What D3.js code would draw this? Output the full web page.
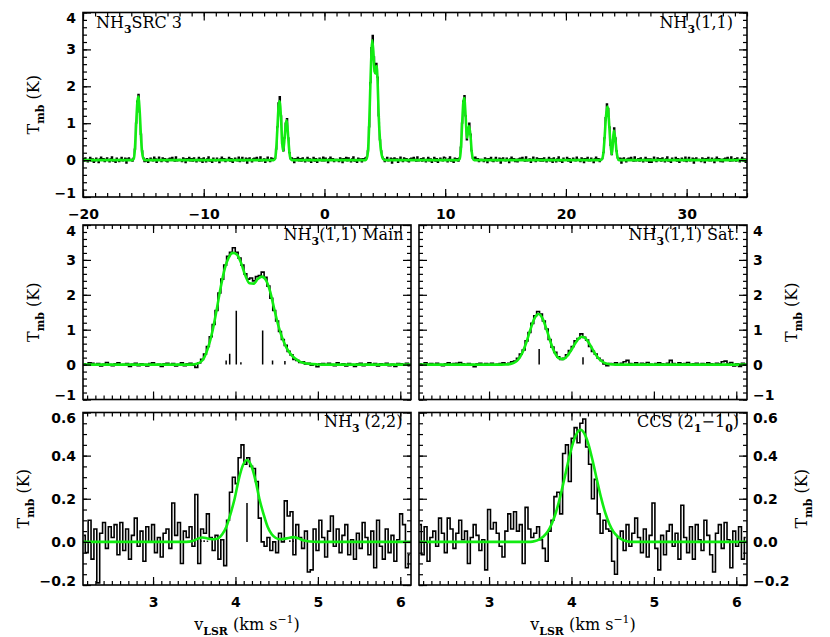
<!DOCTYPE html>
<html><head><meta charset="utf-8">
<script src="https://cdn.jsdelivr.net/npm/d3@7"></script>
<style>body{margin:0;background:#fff}svg{display:block}</style>
</head><body>
<svg id="c" width="830" height="637"></svg>
<script>
// ---------------- DATA ----------------
// Top panel: full NH3(1,1) spectrum, channels from -20 km/s, 0.1 km/s apart
const topStart = -20, topStep = 0.1;
const topT = [
 0.04,-0.03,0.06,0.01,-0.05,0.02,0.07,-0.02,0.03,-0.06,
 -0.02,0.05,0.00,-0.07,0.03,0.08,-0.01,0.04,-0.04,0.02,
 0.06,-0.01,-0.05,0.03,0.09,-0.03,0.01,-0.06,0.05,0.00,
 -0.04,0.02,0.07,-0.02,0.00,0.05,-0.08,0.03,0.06,-0.01,
 0.02,-0.03,0.05,0.30,1.00,1.60,1.78,1.30,0.70,0.25,
 0.06,-0.04,-0.03,0.04,-0.06,0.00,0.05,0.02,-0.02,0.08,
 0.03,-0.06,0.02,0.08,-0.01,-0.04,0.06,0.00,0.04,-0.03,
 -0.05,0.03,0.05,-0.01,0.07,0.02,-0.03,0.09,-0.02,0.01,
 0.02,0.00,-0.04,0.06,0.03,-0.07,0.04,0.01,0.07,-0.02,
 0.04,-0.03,0.06,0.01,-0.05,0.02,0.07,-0.02,0.03,-0.06,
 0.06,-0.01,-0.05,0.03,0.09,-0.03,0.01,-0.06,0.05,0.00,
 -0.02,0.05,0.00,-0.07,0.03,0.08,-0.01,0.04,-0.04,0.02,
 0.01,0.07,-0.03,0.04,-0.06,0.00,0.05,0.02,-0.02,0.08,
 -0.04,0.02,0.07,-0.02,0.00,0.05,-0.08,0.03,0.06,-0.01,
 -0.05,0.03,0.05,-0.01,0.07,0.02,-0.03,0.09,-0.02,0.01,
 0.03,-0.06,0.02,0.08,-0.01,-0.04,0.06,0.00,0.04,0.05,
 0.30,0.90,1.55,1.72,1.20,0.45,0.25,0.60,1.00,1.12,
 0.60,0.20,0.04,0.06,0.03,-0.07,0.04,0.01,0.07,-0.02,
 0.04,-0.03,0.06,0.01,-0.05,0.02,0.07,-0.02,0.03,-0.06,
 0.01,0.07,-0.03,0.04,-0.06,0.00,0.05,0.02,-0.02,0.08,
 -0.02,0.05,0.00,-0.07,0.03,0.08,-0.01,0.04,-0.04,0.02,
 0.02,0.00,-0.04,0.06,0.03,-0.07,0.04,0.01,0.07,-0.02,
 0.06,-0.01,-0.05,0.03,0.09,-0.03,0.01,-0.06,0.05,0.00,
 0.03,-0.05,0.04,0.00,0.06,0.08,0.25,0.90,2.10,3.05,
 3.38,2.80,2.40,2.62,2.25,1.20,0.55,0.25,0.08,0.03,
 -0.04,0.02,0.07,-0.02,0.00,0.05,-0.08,0.03,0.06,-0.01,
 0.03,-0.06,0.02,0.08,-0.01,-0.04,0.06,0.00,0.04,-0.03,
 -0.05,0.03,0.05,-0.01,0.07,0.02,-0.03,0.09,-0.02,0.01,
 0.04,-0.03,0.06,0.01,-0.05,0.02,0.07,-0.02,0.03,-0.06,
 0.01,0.07,-0.03,0.04,-0.06,0.00,0.05,0.02,-0.02,0.08,
 0.06,-0.01,-0.05,0.03,0.09,-0.03,0.01,-0.06,0.05,0.00,
 0.04,-0.03,0.06,0.35,1.00,1.60,1.75,1.20,0.55,0.80,
 1.00,0.70,0.25,0.05,0.03,0.08,-0.01,0.04,-0.04,0.02,
 0.02,0.00,-0.04,0.06,0.03,-0.07,0.04,0.01,0.07,-0.02,
 -0.04,0.02,0.07,-0.02,0.00,0.05,-0.08,0.03,0.06,-0.01,
 -0.02,0.05,0.00,-0.07,0.03,0.08,-0.01,0.04,-0.04,0.02,
 -0.05,0.03,0.05,-0.01,0.07,0.02,-0.03,0.09,-0.02,0.01,
 0.03,-0.06,0.02,0.08,-0.01,-0.04,0.06,0.00,0.04,-0.03,
 0.04,-0.03,0.06,0.01,-0.05,0.02,0.07,-0.02,0.03,-0.06,
 0.06,-0.01,-0.05,0.03,0.09,-0.03,0.01,-0.06,0.05,0.00,
 0.01,0.07,-0.03,0.04,-0.06,0.00,0.05,0.02,-0.02,0.08,
 0.02,0.00,-0.04,0.06,0.03,-0.07,0.04,0.01,0.07,-0.02,
 -0.02,0.05,0.00,-0.07,0.03,0.08,-0.01,0.04,-0.04,0.02,
 0.04,0.20,0.60,1.15,1.52,1.40,0.90,0.40,0.15,0.55,
 0.87,0.60,0.25,0.06,0.00,0.05,-0.08,0.03,0.06,-0.01,
 -0.05,0.03,0.05,-0.01,0.07,0.02,-0.03,0.09,-0.02,0.01,
 0.04,-0.03,0.06,0.01,-0.05,0.02,0.07,-0.02,0.03,-0.06,
 0.03,-0.06,0.02,0.08,-0.01,-0.04,0.06,0.00,0.04,-0.03,
 0.06,-0.01,-0.05,0.03,0.09,-0.03,0.01,-0.06,0.05,0.00,
 0.01,0.07,-0.03,0.04,-0.06,0.00,0.05,0.02,-0.02,0.08,
 -0.04,0.02,0.07,-0.02,0.00,0.05,-0.08,0.03,0.06,-0.01,
 0.02,0.00,-0.04,0.06,0.03,-0.07,0.04,0.01,0.07,-0.02,
 -0.02,0.05,0.00,-0.07,0.03,0.08,-0.01,0.04,-0.04,0.02,
 -0.05,0.03,0.05,-0.01,0.07,0.02,-0.03,0.09,-0.02,0.01,
 0.04,-0.03,0.06,0.01,-0.05,0.02,0.07,-0.02,0.03,-0.06,
 0.02
];
// Top panel fit [v, T]
const topFit = [
 [-20,0],[-15.9,0],[-15.8,0.03],[-15.7,0.3],[-15.6,0.95],[-15.5,1.55],[-15.42,1.72],[-15.3,1.3],[-15.2,0.65],[-15.1,0.2],[-15.0,0.04],[-14.9,0],
 [-4.2,0],[-4.1,0.03],[-4.0,0.28],[-3.9,0.85],[-3.8,1.45],[-3.72,1.6],[-3.6,1.15],[-3.5,0.45],[-3.42,0.25],[-3.3,0.6],[-3.2,0.98],[-3.12,1.08],[-3.0,0.6],[-2.9,0.2],[-2.8,0.03],[-2.7,0],
 [3.4,0],[3.5,0.04],[3.6,0.22],[3.7,0.9],[3.8,2.0],[3.9,2.95],[3.96,3.25],[4.05,2.95],[4.15,2.4],[4.22,2.35],[4.32,2.55],[4.4,2.15],[4.5,1.15],[4.6,0.55],[4.7,0.22],[4.8,0.07],[4.9,0.02],[5.0,0],
 [11.1,0],[11.2,0.03],[11.3,0.3],[11.4,0.95],[11.5,1.55],[11.58,1.68],[11.7,1.15],[11.8,0.6],[11.9,0.78],[11.98,0.92],[12.1,0.65],[12.2,0.22],[12.3,0.04],[12.4,0],
 [22.9,0],[23.0,0.03],[23.1,0.18],[23.2,0.58],[23.3,1.1],[23.42,1.45],[23.5,1.35],[23.6,0.88],[23.7,0.4],[23.8,0.16],[23.88,0.4],[23.97,0.8],[24.1,0.55],[24.2,0.22],[24.3,0.05],[24.4,0],
 [35,0]
];

// Zoomed panels: channels from 2.16 km/s, 0.035 km/s apart
const chanStart = 2.16, chanStep = 0.035;
const mainT = [
 0.02,0.00,0.05,0.04,-0.02,0.03,-0.04,0.01,0.06,0.00,
 -0.03,0.02,0.05,-0.02,0.00,0.03,-0.05,0.01,0.04,-0.03,
 0.02,0.00,-0.04,0.03,0.05,-0.02,0.01,-0.05,0.02,0.04,
 -0.01,0.03,-0.04,0.00,0.05,-0.03,0.02,0.04,-0.02,-0.08,
 0.05,0.15,0.30,0.52,0.80,1.15,1.55,2.05,2.45,2.85,
 3.10,3.22,3.35,3.22,3.05,2.85,2.60,2.45,2.48,2.40,
 2.52,2.55,2.65,2.50,2.25,1.90,1.55,1.25,0.95,0.72,
 0.55,0.38,0.28,0.15,0.12,0.06,0.08,0.02,0.04,-0.02,
 0.01,-0.06,0.02,0.03,-0.02,0.04,0.00,-0.03,0.05,-0.01,
 0.02,-0.04,0.03,0.00,-0.05,0.02,0.04,-0.03,0.01,0.05,
 -0.02,0.03,-0.04,0.02,0.00,0.04,-0.03,0.01,-0.05,0.03,
 0.02,-0.02,0.04,-0.03
];
const mainFit = [
 [2.14,0],[3.45,0],[3.52,0.02],[3.57,0.06],[3.62,0.2],[3.67,0.5],[3.72,0.95],[3.77,1.55],[3.82,2.2],[3.87,2.75],
 [3.92,3.08],[3.97,3.2],[4.02,3.15],[4.07,2.9],[4.12,2.55],[4.17,2.33],[4.22,2.32],[4.27,2.45],[4.32,2.52],[4.37,2.42],
 [4.42,2.1],[4.47,1.6],[4.52,1.12],[4.57,0.75],[4.62,0.48],[4.67,0.3],[4.72,0.18],[4.77,0.1],[4.82,0.05],[4.9,0.02],
 [5.0,0.005],[5.1,0],[6.14,0]
];
const mainSticks = [[3.887,0.12],[3.93,0.31],[4.01,1.54],[4.066,0.07],[4.33,0.98],[4.45,0.12],[4.60,0.10]];

const satT = [
 0.02,-0.02,0.05,0.01,0.03,-0.01,0.04,0.00,-0.03,0.02,
 0.05,0.01,0.03,0.04,0.06,0.02,-0.02,0.03,0.00,-0.06,
 0.02,0.04,-0.01,0.03,0.00,0.04,-0.02,0.01,0.03,0.05,
 0.02,
 0.04,0.08,0.10,0.18,0.30,0.42,0.68,0.92,1.18,1.40,
 1.52,1.45,1.25,1.02,0.72,0.50,0.35,0.22,0.15,0.18,
 0.28,0.40,0.52,0.68,0.75,0.88,0.78,0.70,0.52,0.38,
 0.30,0.18,0.12,0.02,-0.03,
 0.03,0.01,0.05,-0.02,0.04,0.08,0.12,0.03,0.00,0.05,
 -0.02,0.04,0.02,0.06,0.01,-0.01,0.03,0.05,0.02,0.00,
 0.04,0.12,0.03,-0.01,0.05,0.02,0.03,0.06,0.00,0.02,
 0.04,-0.02,0.03,0.01,0.05,0.02,0.00,0.04,0.02,0.08,
 0.10,0.03,0.06,-0.04,0.02,-0.05,0.04,0.01
];
const satFit = [
 [2.14,0],[3.15,0],[3.2,0.004],[3.25,0.014],[3.3,0.048],[3.35,0.136],[3.4,0.319],[3.45,0.619],[3.5,0.993],[3.55,1.32],
 [3.6,1.45],[3.65,1.32],[3.7,0.993],[3.75,0.619],[3.8,0.33],[3.85,0.18],[3.9,0.156],[3.95,0.25],[4.0,0.425],[4.05,0.628],
 [4.1,0.773],[4.13,0.8],[4.15,0.788],[4.2,0.665],[4.25,0.464],[4.3,0.268],[4.35,0.128],[4.4,0.051],[4.45,0.017],[4.5,0.005],
 [4.56,0],[6.14,0]
];
const satSticks = [[3.608,0.45],[4.14,0.21]];

const nh322T = [
 0.03,-0.05,0.10,-0.08,0.06,-0.19,0.04,0.09,-0.03,0.07,
 0.02,0.08,-0.06,0.09,-0.04,0.06,-0.08,0.03,0.11,-0.02,
 0.05,-0.09,0.07,0.00,0.08,-0.05,0.02,-0.07,0.04,0.06,
 -0.03,0.18,0.03,0.09,-0.10,0.05,0.02,0.07,-0.02,0.22,
 -0.10,0.06,0.04,0.13,0.02,-0.04,0.03,-0.08,0.01,-0.11,
 0.10,0.23,0.30,0.27,0.39,0.45,0.36,0.39,0.35,0.34,
 0.28,0.11,0.00,-0.02,0.02,-0.04,0.00,-0.05,0.04,0.00,
 0.19,0.12,0.14,-0.06,0.08,0.02,-0.03,0.05,-0.14,-0.13,
 0.06,-0.04,0.10,0.02,-0.07,0.05,0.12,-0.02,0.06,-0.05,
 0.03,0.08,-0.06,0.01,-0.08,0.04,-0.03,0.09,0.02,-0.06,
 0.05,-0.12,0.10,-0.02,-0.08,0.06,-0.05,0.03,-0.09,0.01,
 0.13,0.08,-0.12,-0.06
];
const nh322Fit = [
 [2.14,0],[3.40,0],[3.48,0.004],[3.54,0.014],[3.60,0.02],[3.66,0.016],[3.70,0.013],[3.74,0.012],[3.79,0.016],[3.84,0.035],
 [3.89,0.07],[3.94,0.13],[3.99,0.2],[4.04,0.29],[4.09,0.355],[4.14,0.38],[4.19,0.355],[4.24,0.29],[4.29,0.2],[4.34,0.13],
 [4.39,0.07],[4.44,0.035],[4.49,0.018],[4.54,0.012],[4.59,0.014],[4.64,0.018],[4.70,0.022],[4.76,0.017],[4.82,0.008],[4.90,0.002],
 [5.0,0],[6.14,0]
];
const nh322Sticks = [[3.58,0.008],[3.62,0.008],[3.66,0.006],[4.14,0.18],[4.66,0.008],[4.70,0.006]];

const ccsT = [
 0.08,-0.06,0.07,-0.09,0.02,0.05,-0.02,0.11,0.04,-0.05,
 0.11,0.06,-0.03,0.04,0.10,0.01,0.05,-0.10,0.02,0.08,
 0.03,-0.04,0.01,-0.13,0.15,0.06,0.09,0.04,-0.02,-0.07,
 0.05,0.13,0.06,0.14,0.05,0.08,-0.10,0.16,0.06,0.02,
 0.04,0.07,0.01,-0.03,-0.09,0.05,0.10,0.21,0.23,0.13,
 0.41,0.45,0.28,0.48,0.53,0.46,0.55,0.57,0.44,0.36,
 0.20,0.29,0.13,0.04,0.10,0.06,0.05,-0.09,-0.15,0.02,
 0.05,-0.04,0.08,-0.02,0.04,0.11,0.02,-0.05,0.06,-0.07,
 0.03,0.18,-0.03,-0.13,0.03,-0.06,0.05,0.08,-0.02,0.04,
 -0.08,0.17,0.02,-0.05,0.07,-0.08,0.08,0.01,-0.04,0.10,
 0.03,-0.06,-0.14,0.04,0.08,-0.03,0.09,0.01,-0.12,0.05,
 -0.02,0.07,-0.08,0.02
];
const ccsFit = [
 [2.14,0],[3.5,0],[3.56,0.004],[3.61,0.012],[3.66,0.025],[3.71,0.047],[3.76,0.083],[3.81,0.135],[3.86,0.204],[3.91,0.286],
 [3.96,0.371],[4.01,0.448],[4.06,0.50],[4.11,0.52],[4.16,0.50],[4.21,0.448],[4.26,0.371],[4.31,0.286],[4.36,0.204],[4.41,0.135],
 [4.46,0.083],[4.51,0.047],[4.56,0.025],[4.61,0.012],[4.66,0.004],[4.72,0],[6.14,0]
];

// Tick values
const topXTicks = [-20,-10,0,10,20,30];
const kTicks = [-1,0,1,2,3,4];
const velTicks = [3,4,5,6];
const smallTicks = [-0.2,0,0.2,0.4,0.6];

// ---------------- DRAWING ----------------
const svg = d3.select("#c");
const TICKFONT = "DejaVu Sans", TEXTFONT = "DejaVu Serif";
const GREEN = "#12ec12";

function rich(sel, parts, size) {
  let shift = 0;
  parts.forEach(([t, m]) => {
    const target = m === "sub" ? 0.32 * size : (m === "sup" ? -0.42 * size : 0);
    sel.append("tspan").attr("dy", target - shift).attr("font-size", m ? size * 0.68 : size)
      .attr("font-weight", m === "sub" ? "bold" : null).text(t);
    shift = target;
  });
}

function panel(cfg) {
  const x = d3.scaleLinear().domain(cfg.xd).range([cfg.x0, cfg.x1]);
  const y = d3.scaleLinear().domain(cfg.yd).range([cfg.y1, cfg.y0]);
  const g = svg.append("g");
  const cid = "clip" + cfg.id;
  svg.append("clipPath").attr("id", cid).append("rect")
    .attr("x", cfg.x0).attr("y", cfg.y0).attr("width", cfg.x1 - cfg.x0).attr("height", cfg.y1 - cfg.y0);
  const plot = g.append("g").attr("clip-path", `url(#${cid})`);

  // data histogram
  const line = d3.line().x((d, i) => x(cfg.start + i * cfg.step)).y(d => y(d)).curve(d3.curveStep);
  plot.append("path").datum(cfg.data).attr("d", line).attr("fill", "none")
    .attr("stroke", "#000").attr("stroke-width", cfg.dataW || 1.6).attr("stroke-linejoin", "miter");
  // sticks
  if (cfg.sticks) {
    plot.selectAll("line.stk").data(cfg.sticks).join("line").attr("class", "stk")
      .attr("x1", d => x(d[0])).attr("x2", d => x(d[0]))
      .attr("y1", y(0)).attr("y2", d => y(d[1]))
      .attr("stroke", "#000").attr("stroke-width", 1.5);
  }
  // fit
  const fl = d3.line().x(d => x(d[0])).y(d => y(d[1])).curve(d3.curveMonotoneX);
  plot.append("path").datum(cfg.fit).attr("d", fl).attr("fill", "none")
    .attr("stroke", GREEN).attr("stroke-width", 2.6);

  // axes (inward ticks on all 4 sides)
  const xMinor = d3.range(cfg.xd[0] - 1e-9, cfg.xd[1], cfg.xMinorStep)
     .map(v => Math.round(v / cfg.xMinorStep) * cfg.xMinorStep).filter(v => v >= cfg.xd[0] - 1e-9 && v <= cfg.xd[1] + 1e-9);
  const yMinor = d3.range(0, 400).map(k => cfg.yd[0] + k * cfg.yMinorStep).filter(v => v <= cfg.yd[1] + 1e-9);
  const ML = 8, mL = 4;
  function side(axisFn, scale, transform, vals, minor, labels, fmt, pad) {
    const a = g.append("g").attr("transform", transform);
    a.call(axisFn(scale).tickValues(minor).tickSize(-mL).tickSizeOuter(0).tickFormat(""));
    const b = g.append("g").attr("transform", transform);
    b.call(axisFn(scale).tickValues(vals).tickSize(-ML).tickSizeOuter(0).tickPadding(pad).tickFormat(labels ? fmt : ""));
    [a, b].forEach(s => {
      s.select(".domain").remove();
      s.selectAll(".tick line").attr("stroke", "#000").attr("stroke-width", 1.2);
      s.attr("font-family", TICKFONT).attr("font-size", 14);
      s.selectAll(".tick text").attr("fill", "#000").attr("font-weight", "bold");
    });
    return b;
  }
  side(d3.axisBottom, x, `translate(0,${cfg.y1})`, cfg.xTicks, xMinor, cfg.xLabels, cfg.xFmt, 12);
  side(d3.axisTop, x, `translate(0,${cfg.y0})`, cfg.xTicks, xMinor, false, null, 3);
  const L = side(d3.axisLeft, y, `translate(${cfg.x0},0)`, cfg.yTicks, yMinor, cfg.yLabel === "left", cfg.yFmt, 7);
  const R = side(d3.axisRight, y, `translate(${cfg.x1},0)`, cfg.yTicks, yMinor, cfg.yLabel === "right", cfg.yFmt, 6);
  [L, R].forEach(s => {
    s.selectAll(".tick").filter(d => Math.abs(d - cfg.yd[1]) < 1e-9).select("text").attr("transform", "translate(0,6)");
    s.selectAll(".tick").filter(d => Math.abs(d - cfg.yd[0]) < 1e-9).select("text").attr("transform", "translate(0,-4)");
  });

  // frame
  g.append("rect").attr("x", cfg.x0).attr("y", cfg.y0).attr("width", cfg.x1 - cfg.x0).attr("height", cfg.y1 - cfg.y0)
    .attr("fill", "none").attr("stroke", "#000").attr("stroke-width", 1.6);

  // panel labels
  (cfg.labels || []).forEach(lb => {
    const t = g.append("text").attr("x", lb.x).attr("y", lb.y).attr("text-anchor", lb.anchor)
      .attr("font-family", TEXTFONT).attr("fill", "#000");
    rich(t, lb.parts, 16);
  });

  // y title
  if (cfg.yTitleX != null) {
    const t = g.append("text").attr("transform", `translate(${cfg.yTitleX},${(cfg.y0 + cfg.y1) / 2}) rotate(-90)`)
      .attr("text-anchor", "middle").attr("font-family", TEXTFONT).attr("fill", "#000");
    rich(t, [["T", ""], ["mb", "sub"], [" (K)", ""]], 16);
  }
  // x title
  if (cfg.xTitle) {
    const t = g.append("text").attr("x", (cfg.x0 + cfg.x1) / 2).attr("y", 630).attr("text-anchor", "middle")
      .attr("font-family", TEXTFONT).attr("fill", "#000");
    rich(t, [["v", ""], ["LSR", "sub"], [" (km s", ""], ["−1", "sup"], [")", ""]], 16);
  }
  return {x, y};
}

const fmtInt = d3.format("d"), fmt1 = d3.format(".1f");
const X0 = 83, X1 = 747, XM0 = 411, XM1 = 419;

panel({id: "top", x0: X0, x1: X1, y0: 12.5, y1: 197, xd: [-20, 35], yd: [-1, 4],
  start: topStart, step: topStep, data: topT, fit: topFit, dataW: 1.3,
  xTicks: topXTicks, xMinorStep: 1, xLabels: true, xFmt: fmtInt,
  yTicks: kTicks, yMinorStep: 0.2, yLabel: "left", yFmt: fmtInt, yTitleX: 39,
  labels: [
    {x: 96, y: 27.5, anchor: "start", parts: [["NH", ""], ["3", "sub"], ["SRC 3", ""]]},
    {x: 733, y: 27.5, anchor: "end", parts: [["NH", ""], ["3", "sub"], ["(1,1)", ""]]}
  ]});

panel({id: "main", x0: X0, x1: XM0, y0: 225, y1: 399.5, xd: [2.15, 6.13], yd: [-1, 4],
  start: chanStart, step: chanStep, data: mainT, fit: mainFit, sticks: mainSticks,
  xTicks: velTicks, xMinorStep: 0.1, xLabels: false,
  yTicks: kTicks, yMinorStep: 0.2, yLabel: "left", yFmt: fmtInt, yTitleX: 39,
  labels: [{x: 403.5, y: 240, anchor: "end", parts: [["NH", ""], ["3", "sub"], ["(1,1) Main", ""]]}]});

panel({id: "sat", x0: XM1, x1: X1, y0: 225, y1: 399.5, xd: [2.15, 6.13], yd: [-1, 4],
  start: chanStart, step: chanStep, data: satT, fit: satFit, sticks: satSticks,
  xTicks: velTicks, xMinorStep: 0.1, xLabels: false,
  yTicks: kTicks, yMinorStep: 0.2, yLabel: "right", yFmt: fmtInt, yTitleX: 797,
  labels: [{x: 739, y: 240, anchor: "end", parts: [["NH", ""], ["3", "sub"], ["(1,1) Sat.", ""]]}]});

panel({id: "n22", x0: X0, x1: XM0, y0: 412.5, y1: 585, xd: [2.15, 6.13], yd: [-0.2, 0.6],
  start: chanStart, step: chanStep, data: nh322T, fit: nh322Fit, sticks: nh322Sticks,
  xTicks: velTicks, xMinorStep: 0.1, xLabels: true, xFmt: fmtInt,
  yTicks: smallTicks, yMinorStep: 0.05, yLabel: "left", yFmt: fmt1, yTitleX: 29, xTitle: true,
  labels: [{x: 402.5, y: 427, anchor: "end", parts: [["NH", ""], ["3", "sub"], [" (2,2)", ""]]}]});

panel({id: "ccs", x0: XM1, x1: X1, y0: 412.5, y1: 585, xd: [2.15, 6.13], yd: [-0.2, 0.6],
  start: chanStart, step: chanStep, data: ccsT, fit: ccsFit,
  xTicks: velTicks, xMinorStep: 0.1, xLabels: true, xFmt: fmtInt,
  yTicks: smallTicks, yMinorStep: 0.05, yLabel: "right", yFmt: fmt1, yTitleX: 807, xTitle: true,
  labels: [{x: 739, y: 427, anchor: "end", parts: [["CCS (2", ""], ["1", "sub"], ["−1", ""], ["0", "sub"], [")", ""]]}]});
</script>
</body></html>
